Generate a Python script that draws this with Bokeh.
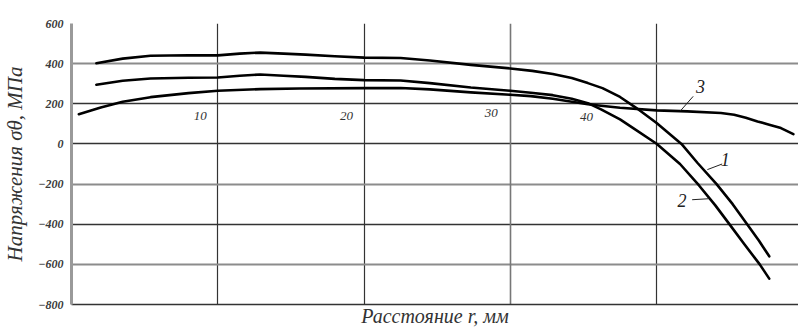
from bokeh.plotting import figure
from bokeh.models import FixedTicker, Grid
from bokeh.core.properties import value
from bokeh.embed import file_html
from bokeh.resources import INLINE

# ---- data (r in mm, stress in MPa) ----
c1_x = [1.7, 3.5, 5.4, 8.0, 10.0, 11.5, 12.9, 14.5, 16.0, 18.0, 20.0, 22.5, 24.5, 27.3, 30.0, 31.5,
        32.9, 34.2, 35.3, 36.3, 37.5, 38.6, 40.0, 41.7, 42.8, 44.1, 45.2, 46.2, 47.0, 47.7]
c1_y = [402, 425, 439, 442, 441, 450, 455, 450, 445, 437, 430, 428, 416, 394, 376, 364,
        348, 328, 303, 278, 234, 180, 104, 0, -95, -200, -300, -402, -482, -560]

c2_x = [1.7, 3.5, 5.4, 8.0, 10.0, 11.5, 12.9, 14.5, 16.0, 18.0, 20.0, 22.5, 24.5, 27.3, 30.0, 31.4,
        32.9, 34.2, 35.3, 36.2, 37.5, 38.4, 40.0, 41.6, 42.9, 44.0, 45.0, 46.0, 47.05, 47.7]
c2_y = [295, 315, 326, 330, 331, 340, 346, 340, 334, 324, 318, 316, 303, 281, 265, 255,
        243, 225, 203, 172, 122, 79, 1, -100, -207, -305, -402, -500, -600, -671]

c3_x = [0.5, 2.0, 3.5, 5.4, 8.0, 10.0, 12.9, 15.6, 20.0, 22.5, 24.5, 27.3, 30.0, 31.4, 32.9, 35.3,
        36.2, 37.5, 40.0, 42.1, 44.4, 45.3, 46.1, 46.9, 47.7, 48.5, 49.35]
c3_y = [148, 182, 210, 233, 253, 265, 273, 276, 278, 279, 272, 257, 245, 238, 225, 198,
        190, 180, 167, 162, 154, 145, 130, 112, 96, 79, 49]

y_ticks = [-800, -600, -400, -200, 0, 200, 400, 600]
x_num_labels = ["10", "20", "30", "40"]
x_num_pos_x = [8.8, 18.8, 28.7, 35.2]
x_num_pos_y = [137, 137, 152, 132]

curve_labels = ["1", "2", "3"]
curve_label_x = [44.7, 41.74, 43.0]
curve_label_y = [-77, -283, 286]
leader_x = [[43.47, 44.48], [42.43, 43.56], [41.63, 42.5]]
leader_y = [[-128, -100], [-278, -273], [165, 237]]

serif = "Liberation Serif"

p = figure(width=798, height=329, output_backend="svg", toolbar_location=None,
           x_range=(0, 49.7), y_range=(-800, 600),
           min_border_left=71, min_border_top=23, min_border_right=0, min_border_bottom=25)
p.outline_line_color = None
p.background_fill_color = "white"

# y axis
p.yaxis.ticker = FixedTicker(ticks=y_ticks)
p.yaxis.axis_line_color = "#9a9a9a"
p.yaxis.axis_line_width = 3
p.yaxis.major_tick_line_color = None
p.yaxis.major_tick_out = 0
p.yaxis.major_tick_in = 0
p.yaxis.minor_tick_line_color = None
p.yaxis.minor_tick_out = 0
p.yaxis.major_label_text_font = serif
p.yaxis.major_label_text_font_style = "bold italic"
p.yaxis.major_label_text_font_size = "12px"
p.yaxis.major_label_text_color = "#3a3a3a"
p.yaxis.major_label_standoff = 8
p.yaxis.axis_label = "Напряжения σθ, МПа"
p.yaxis.axis_label_text_font = serif
p.yaxis.axis_label_text_font_style = "italic"
p.yaxis.axis_label_text_font_size = "21px"
p.yaxis.axis_label_text_color = "#333333"
p.yaxis.axis_label_standoff = 8

# x axis
p.xaxis.ticker = FixedTicker(ticks=[])
p.xaxis.axis_line_color = "#333333"
p.xaxis.axis_line_width = 1.3
p.xaxis.major_tick_line_color = None
p.xaxis.major_tick_out = 0
p.xaxis.major_tick_in = 0
p.xaxis.minor_tick_line_color = None
p.xaxis.minor_tick_out = 0
p.xaxis.major_label_standoff = 0
p.xaxis.axis_label = "Расстояние r, мм"
p.xaxis.axis_label_text_font = serif
p.xaxis.axis_label_text_font_style = "italic"
p.xaxis.axis_label_text_font_size = "20px"
p.xaxis.axis_label_text_color = "#333333"
p.xaxis.axis_label_standoff = 0

# grids
p.xgrid.ticker = FixedTicker(ticks=[10, 20, 40])
p.xgrid.grid_line_color = "#333333"
p.xgrid.grid_line_width = 1.2
p.ygrid.ticker = FixedTicker(ticks=[600, 200, 0, -400, -800])
p.ygrid.grid_line_color = "#333333"
p.ygrid.grid_line_width = 1.3
p.add_layout(Grid(dimension=1, ticker=FixedTicker(ticks=[400, -200, -600]),
                  grid_line_color="#8c8c8c", grid_line_width=2))
p.add_layout(Grid(dimension=0, ticker=FixedTicker(ticks=[30]),
                  grid_line_color="#777777", grid_line_width=1.6))

# curves
for xs, ys in [(c1_x, c1_y), (c2_x, c2_y), (c3_x, c3_y)]:
    p.line(xs, ys, line_color="black", line_width=2.6, line_join="round", line_cap="round")

# leaders
p.multi_line(leader_x, leader_y, line_color="#222222", line_width=1)

# number labels inside plot
p.text(x=x_num_pos_x, y=x_num_pos_y, text=x_num_labels, text_font=value(serif),
       text_font_style="italic", text_font_size="13px", text_color="#333333",
       text_align="center", text_baseline="middle")

p.text(x=curve_label_x, y=curve_label_y, text=curve_labels, text_font=value(serif),
       text_font_style="italic", text_font_size="18px", text_color="#222222",
       text_align="center", text_baseline="middle")

open("out.html", "w").write(file_html(p, INLINE))
